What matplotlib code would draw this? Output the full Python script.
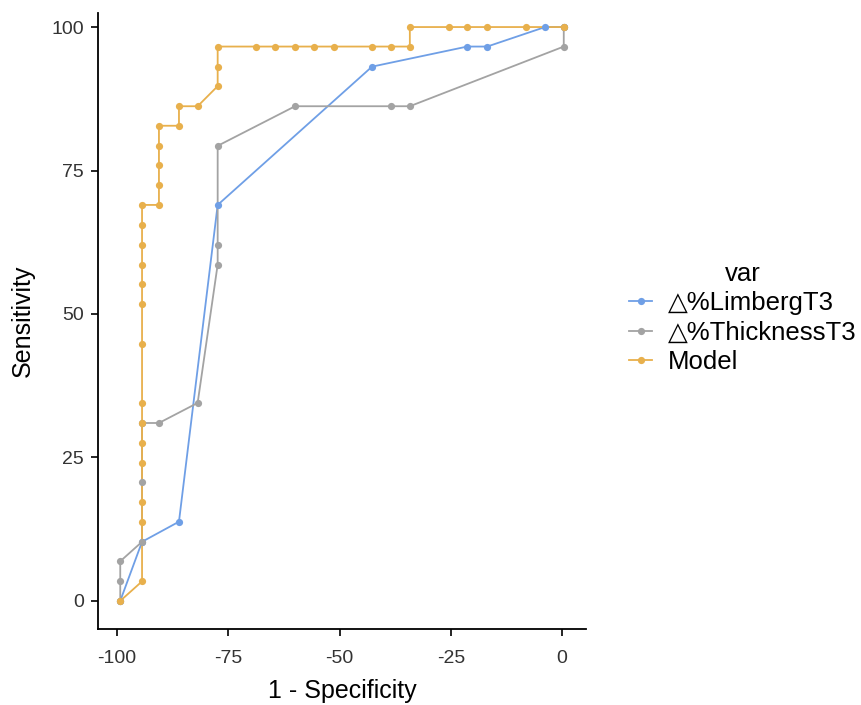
import numpy as np
import matplotlib
matplotlib.use('Agg')
import matplotlib.pyplot as plt

plt.rcParams['font.family'] = ['Liberation Sans', 'DejaVu Sans']
plt.rcParams['axes.unicode_minus'] = False

# Curvas ROC (x = 1 - especificidade, y = sensibilidade)
limberg_x = [-99.3, -94.4, -86.1, -77.4, -42.7, -21.3, -16.8, -3.8, 0.4]
limberg_y = [0.0, 10.3, 13.8, 69.0, 93.1, 96.6, 96.6, 100.0, 100.0]

thick_x = [-99.3, -99.3, -99.3, -94.4, -94.4, -94.4, -90.6, -81.9, -77.4,
           -77.4, -77.4, -60.0, -38.5, -34.2, 0.4, 0.4]
thick_y = [0.0, 3.4, 6.9, 10.3, 20.7, 31.0, 31.0, 34.5, 58.6,
           62.1, 79.3, 86.2, 86.2, 86.2, 96.6, 100.0]

model_x = [-99.3, -94.4, -94.4, -94.4, -94.4, -94.4, -94.4, -94.4, -94.4,
           -94.4, -94.4, -94.4, -94.4, -94.4, -94.4,
           -90.6, -90.6, -90.6, -90.6, -90.6, -86.1, -86.1, -81.9,
           -77.4, -77.4, -77.4, -68.7, -64.4, -60.0, -55.7, -51.2, -42.7,
           -38.5, -34.2, -34.2, -25.5, -21.3, -16.8, -8.1, 0.4]
model_y = [0.0, 3.4, 13.8, 17.2, 24.1, 27.6, 31.0, 34.5, 44.8,
           51.7, 55.2, 58.6, 62.1, 65.5, 69.0,
           69.0, 72.4, 75.9, 79.3, 82.8, 82.8, 86.2, 86.2,
           89.7, 93.1, 96.6, 96.6, 96.6, 96.6, 96.6, 96.6, 96.6,
           96.6, 96.6, 100.0, 100.0, 100.0, 100.0, 100.0, 100.0]

nomes = ['\u25b3%LimbergT3', '\u25b3%ThicknessT3', 'Model']
cores = ['#6F9FE6', '#A3A3A3', '#E8B04C']
series = [(limberg_x, limberg_y), (thick_x, thick_y), (model_x, model_y)]

fig = plt.figure(figsize=(8.61, 7.05), dpi=100)
ax = fig.add_axes([98/861, 1 - 629/705, (586 - 98)/861, (629 - 12.7)/705])

# linhas primeiro, pontos por cima (como no ggplot)
for (x, y), c in zip(series, cores):
    ax.plot(x, y, color=c, lw=1.3, zorder=2)
handles = []
for (x, y), c, n in zip(series, cores, nomes):
    ax.plot(x, y, 'o', color=c, ms=5.2, mec='none', zorder=3)
    h, = ax.plot([], [], '-o', color=c, lw=1.3, ms=5.2, mec='none', label=n)
    handles.append(h)

ax.set_xlim(-104.3, 5.4)
ax.set_ylim(-4.9, 102.5)
ax.set_xticks([-100, -75, -50, -25, 0])
ax.set_yticks([0, 25, 50, 75, 100])
ax.tick_params(labelsize=14, labelcolor='#333333', length=5, width=1.2)
ax.tick_params(axis='x', pad=10)
ax.tick_params(axis='y', pad=5)
for s in ['top', 'right']:
    ax.spines[s].set_visible(False)
for s in ['left', 'bottom']:
    ax.spines[s].set_linewidth(1.3)

ax.set_xlabel('1 - Specificity', fontsize=18, labelpad=9)
ax.set_ylabel('Sensitivity', fontsize=18, labelpad=12)

leg = fig.legend(handles=handles, title='var', loc='center left',
                 bbox_to_anchor=(606/861, 1 - 318/705), frameon=False,
                 fontsize=18.5, title_fontsize=18.5, handlelength=0.9,
                 handletextpad=0.6, labelspacing=0.22)

fig.savefig('out.png', dpi=100)
